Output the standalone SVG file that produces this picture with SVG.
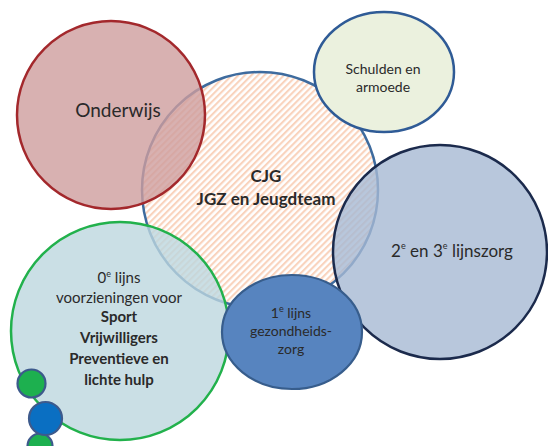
<svg xmlns="http://www.w3.org/2000/svg" width="548" height="446" viewBox="0 0 548 446">
<defs>
<pattern id="hatch" patternUnits="userSpaceOnUse" width="4.6" height="4.6" patternTransform="rotate(45)">
<rect x="0" y="0" width="4.6" height="4.6" fill="#ffffff"/>
<rect x="0" y="0" width="2.1" height="4.6" fill="#f9d3bd"/>
</pattern>
<style>
text{font-family:Lato,"Open Sans","Liberation Sans",sans-serif;fill:#2a2a2a;text-anchor:middle}
.b{font-weight:bold}
.sup{font-size:9px}
.small{stroke:#3d5a8c;stroke-width:2.2}
</style>
</defs>
<rect width="548" height="446" fill="#ffffff"/>
<g id="cjg">
<circle cx="260" cy="190" r="118" fill="url(#hatch)" stroke="#3e6b9e" stroke-width="2.5"/>
<text class="b" x="266" y="182" font-size="17">CJG</text>
<text class="b" x="266" y="205" font-size="17">JGZ en Jeugdteam</text>
</g>
<g id="onderwijs">
<circle cx="111" cy="115" r="94" fill="#ce9e9e" fill-opacity="0.8" stroke="#a3282c" stroke-width="2.5"/>
<text x="118" y="117" font-size="19">Onderwijs</text>
</g>
<g id="schulden">
<ellipse cx="384" cy="72" rx="70" ry="60" fill="#ebf1de" stroke="#2f5b96" stroke-width="2.5"/>
<text x="383" y="74" font-size="14">Schulden en</text>
<text x="383" y="92" font-size="14">armoede</text>
</g>
<g id="lijnszorg23">
<circle cx="440" cy="252" r="107" fill="#a6b9d3" fill-opacity="0.8" stroke="#1b2a4c" stroke-width="2.5"/>
<text x="452" y="257" font-size="17">2<tspan class="sup" dy="-8">e</tspan><tspan dy="8"> en 3</tspan><tspan class="sup" dy="-8">e</tspan><tspan dy="8"> lijnszorg</tspan></text>
</g>
<g id="nullijns">
<circle cx="120" cy="331" r="109" fill="#bdd7de" fill-opacity="0.8" stroke="#22b14c" stroke-width="2.5"/>
<text x="119" y="283" font-size="15">0<tspan class="sup" dy="-6">e</tspan><tspan dy="6"> lijns</tspan></text>
<text x="119" y="303" font-size="15">voorzieningen voor</text>
<text class="b" x="119" y="322" font-size="15">Sport</text>
<text class="b" x="119" y="343" font-size="15">Vrijwilligers</text>
<text class="b" x="119" y="364" font-size="15">Preventieve en</text>
<text class="b" x="119" y="385" font-size="15">lichte hulp</text>
</g>
<g id="eerstelijns">
<ellipse cx="292" cy="332" rx="70" ry="57" fill="#5784bf" stroke="#375d8c" stroke-width="2.2"/>
<text x="291" y="318" font-size="14">1<tspan class="sup" dy="-6">e</tspan><tspan dy="6"> lijns</tspan></text>
<text x="291" y="336" font-size="14">gezondheids-</text>
<text x="291" y="354" font-size="14">zorg</text>
</g>
<g id="dot-green-1"><circle class="small" cx="31.5" cy="383.5" r="14" fill="#1db04f"/></g>
<g id="dot-green-2"><circle class="small" cx="40" cy="446" r="12.5" fill="#1db04f"/></g>
<g id="dot-blue"><circle class="small" cx="45.5" cy="418.5" r="16.5" fill="#0a6fc2"/></g>
</svg>
